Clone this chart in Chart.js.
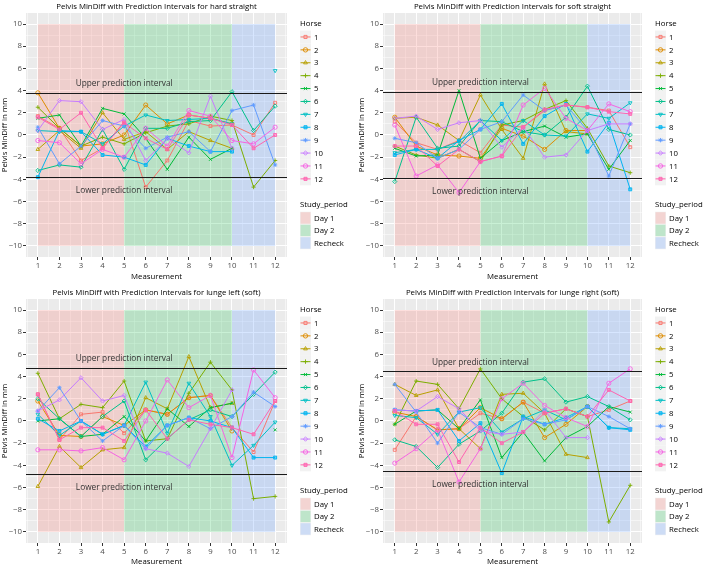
<!DOCTYPE html>
<html>
<head>
<meta charset="utf-8">
<script src="https://cdn.jsdelivr.net/npm/chart.js@4.4.1/dist/chart.umd.min.js"></script>
<style>
  body { margin: 0; background: #fff; }
  #fig { position: relative; width: 709px; height: 566px; overflow: hidden; }
  .panel { position: absolute; }
</style>
</head>
<body>
<div id="fig">
  <div class="panel" style="left:0;top:0"><canvas id="c1" width="354" height="283"></canvas></div>
  <div class="panel" style="left:357px;top:0"><canvas id="c2" width="352" height="283"></canvas></div>
  <div class="panel" style="left:0;top:286px"><canvas id="c3" width="354" height="280"></canvas></div>
  <div class="panel" style="left:357px;top:286px"><canvas id="c4" width="352" height="280"></canvas></div>
</div>
<script>
(function(){
  // data
  const measurements = [1, 2, 3, 4, 5, 6, 7, 8, 9, 10, 11, 12];
  const horses = ['1', '2', '3', '4', '5', '6', '7', '8', '9', '10', '11', '12'];
  const yTicks = [-10, -8, -6, -4, -2, 0, 2, 4, 6, 8, 10];

  const periods = ['Day 1', 'Day 2', 'Recheck'];
  const periodFrom = [1, 5, 10];
  const periodTo = [5, 10, 12];
  const periodLow = -10;
  const periodHigh = 10;

  const surfaces = ['hard straight', 'soft straight', 'lunge left (soft)', 'lunge right (soft)'];
  const predictionLimits = [3.8, 3.9, 4.8, 4.5];

  // one row per horse, one value per measurement
  const hardStraight = [
    [1.7, 0.6, -2.3, -1.2, 1.2, -4.7, -2.3, 1.3, 0.8, 0.9, 0.0, 2.9],
    [3.8, 0.6, -1.0, -0.8, 0.0, 2.7, 1.0, 1.8, 1.5, 1.0, null, null],
    [-1.3, 0.4, -1.2, 2.0, -0.4, 0.3, -1.3, 0.3, -0.5, -1.2, null, null],
    [2.5, 0.6, -1.0, -0.2, -0.8, 0.2, 0.8, 1.0, 1.7, 1.3, -4.7, -2.3],
    [1.5, 1.8, -1.0, 2.4, 1.9, -0.3, -3.1, -0.2, -2.2, -1.2, null, null],
    [-3.2, -2.7, -2.9, 0.5, -3.1, 0.6, 0.6, 1.2, 1.3, 3.9, 0.4, 2.6],
    [0.4, 0.3, 0.3, -0.8, 0.8, 1.8, 1.3, 1.4, 1.5, 1.0, null, 5.8],
    [-3.8, 0.4, 0.3, -1.8, -2.0, -2.7, -0.3, -1.0, -1.5, -1.5, null, null],
    [0.7, -2.6, -1.0, 1.3, 0.8, -1.2, -0.2, 0.3, -1.5, 2.2, 2.7, -2.7],
    [0.4, 3.1, 3.0, 0.5, 1.4, -2.3, -0.3, -1.6, 3.5, -1.2, null, null],
    [-0.5, -0.7, -2.6, -1.3, -2.0, 0.6, -1.0, 2.2, 1.7, -0.5, -0.8, 0.7],
    [1.6, 0.5, 2.0, -1.2, 1.1, -0.3, -1.3, 1.8, 1.5, 0.9, -1.2, 0.0]
  ];
  const softStraight = [
    [1.2, -0.7, -1.3, -0.5, -1.6, 0.9, 0.7, 2.2, 2.7, 2.5, 2.2, -1.1],
    [1.6, -1.0, -1.8, -1.9, -2.1, 0.6, -0.1, -1.3, 0.4, 0.4, null, null],
    [1.5, 1.6, 0.9, -0.5, 3.6, 0.5, -2.1, 4.6, 0.3, 0.1, null, null],
    [-1.0, -1.8, -2.1, -1.3, -2.4, 0.9, 1.3, 2.3, 3.1, 0.6, -2.8, -3.4],
    [-1.2, -1.9, -1.8, 4.0, -2.1, -0.5, 0.3, 0.8, -0.2, 0.1, -3.1, -0.5],
    [-4.2, 1.6, -1.2, -1.0, 1.3, 1.2, 0.3, 0.0, 1.6, 4.4, 0.5, 0.0],
    [-1.6, -1.3, -1.3, -0.6, 1.3, -0.5, 1.3, 0.0, -0.1, 1.9, 1.5, 2.9],
    [-1.8, -1.3, -2.1, -0.5, 0.5, 2.8, -0.8, 1.7, 2.8, -1.5, 1.1, -4.9],
    [-0.3, -0.7, -2.1, -1.3, 0.5, 1.2, 3.6, 2.2, 2.7, 0.4, -3.7, 1.0],
    [1.5, 1.7, 0.5, 1.1, 1.3, -1.1, 0.7, -2.0, -1.8, 0.4, 1.0, 1.0],
    [0.9, -3.7, -2.7, -5.2, -2.4, -1.9, 2.7, 4.2, 1.5, 0.4, 2.8, 2.1],
    [-1.0, -1.0, -2.8, -1.3, -2.4, -1.9, 0.7, 2.3, 2.7, 2.5, 2.1, 1.9]
  ];
  const lungeLeft = [
    [2.4, -1.7, 0.6, 0.8, -1.1, 1.0, 0.6, 2.1, 2.3, -0.6, -2.8, 1.8],
    [1.8, -1.3, -1.4, 0.4, -0.4, 1.0, 0.6, 2.1, 2.3, -0.9, null, null],
    [-5.9, -2.3, -4.2, -2.6, -2.4, 2.1, 1.1, 5.8, 1.2, 1.6, null, null],
    [4.3, 0.2, 1.5, 1.2, 3.6, -1.8, -1.6, 2.5, 5.3, 2.8, -7.0, -6.8],
    [0.0, 0.2, -1.4, -1.2, 0.4, -1.8, 1.1, -0.5, 1.2, 1.6, null, -0.8],
    [2.0, 0.2, -1.4, 0.4, 1.8, -3.5, -1.6, 0.1, 1.0, 0.4, 2.4, 4.4],
    [0.6, -1.3, 0.0, -1.2, -0.4, 3.5, -1.1, 3.4, 0.4, -4.0, -2.2, -0.1],
    [0.2, -0.9, 0.0, -1.2, -0.4, -2.3, -0.4, 0.3, 0.0, -0.6, -3.3, -3.3],
    [0.9, 3.0, 0.0, -1.8, -0.4, -2.5, -0.4, 0.3, -0.7, 0.4, 2.6, 1.3],
    [0.9, 1.9, 3.9, 1.8, 2.3, -2.5, -2.9, -4.1, -0.7, 2.8, null, null],
    [-2.6, -2.6, -2.7, -2.4, -3.5, 0.0, 3.7, 1.2, 2.3, -3.3, 4.6, 2.1],
    [2.4, -1.7, -0.6, -0.6, -1.8, 1.0, -1.6, 0.1, -0.3, -0.6, -1.2, 1.8]
  ];
  const lungeRight = [
    [-2.6, 0.4, -0.8, -0.7, 0.7, 0.2, 1.7, 0.7, 1.1, 0.4, 1.0, 1.8],
    [0.8, 0.4, -0.8, -0.7, 1.2, 0.2, 1.7, -1.5, -0.3, 1.3, null, null],
    [3.3, 2.3, 2.8, -0.7, -2.5, 2.4, 2.5, 0.7, -3.0, -3.3, null, null],
    [-0.3, 3.6, 3.3, 1.1, 4.7, 2.0, 0.4, -0.8, 1.1, 0.4, -9.1, -5.8],
    [-0.3, 0.9, 1.0, -0.7, 1.9, -3.3, -1.0, -3.6, -1.5, -0.5, 1.3, 0.8],
    [-1.7, -2.3, -4.2, -2.1, -0.9, 0.7, 3.5, 3.8, 1.7, 2.2, 1.3, 0.1],
    [0.5, 0.3, -1.2, 0.8, 1.2, -1.0, 0.2, 1.0, 0.1, 1.3, -0.6, -0.7],
    [1.0, 0.9, 1.0, -1.8, -0.2, -4.7, 0.4, -0.3, 0.3, 1.3, -0.6, -0.8],
    [3.3, 0.8, -2.0, 0.8, -0.6, -1.2, 0.2, -0.3, 0.1, 1.3, 0.4, -0.7],
    [1.0, 0.9, 2.2, 1.1, -0.9, -1.2, -1.0, 1.0, -1.5, -1.5, null, null],
    [-3.8, -2.5, -0.8, -5.5, -2.5, 2.0, 3.4, 1.4, 0.3, -0.5, 3.4, 4.7],
    [0.9, -0.3, -0.3, -3.7, -0.6, -2.0, -1.0, 0.7, 1.1, 0.4, 2.8, 1.8]
  ];
  const panelData = [hardStraight, softStraight, lungeLeft, lungeRight];

  // styles
  const horseColors = ['#F8766D', '#DE8C00', '#B79F00', '#7CAE00', '#00BA38', '#00C08B',
                       '#00BFC4', '#00B4F0', '#619CFF', '#C77CFF', '#F564E3', '#FF64B0'];
  const horseShapes = ['rect', 'circle', 'triangle', 'cross', 'crossRot', 'rectRot',
                       'triangle', 'rect', 'star', 'rectRot', 'circle', 'rect'];
  const horseRotation = [0, 0, 0, 0, 0, 0, 180, 0, 0, 0, 0, 0];
  const horseFilled = [false, false, false, false, false, false, false, true, false, false, false, true];
  const periodColors = ['rgba(248,118,109,0.24)', 'rgba(0,186,56,0.21)', 'rgba(97,156,255,0.25)'];
  const FONT = '"Open Sans", "Noto Sans", sans-serif';
  const FS = 7.8;
  Chart.defaults.font.family = FONT;

  const minorX = measurements.map(m => m - 0.5).concat([12.5]);
  const xGrid = measurements.concat(minorX).sort((a, b) => a - b);
  const yGrid = yTicks.concat(yTicks.slice(1).map(v => v - 1)).sort((a, b) => a - b);

  function withAlpha(hex, a){
    const n = parseInt(hex.slice(1), 16);
    return `rgba(${n >> 16},${(n >> 8) & 255},${n & 255},${a})`;
  }

  const panelBg = {
    id: 'panelBg',
    beforeDraw(chart){
      const { ctx, chartArea: a } = chart;
      ctx.save();
      ctx.fillStyle = '#EBEBEB';
      ctx.fillRect(a.left, a.top, a.width, a.height);
      ctx.restore();
    }
  };

  const periodRects = {
    id: 'periodRects',
    beforeDatasetsDraw(chart){
      const { ctx, scales: { x, y } } = chart;
      const top = y.getPixelForValue(periodHigh);
      const bottom = y.getPixelForValue(periodLow);
      ctx.save();
      periods.forEach((p, i) => {
        const x0 = x.getPixelForValue(periodFrom[i]);
        const x1 = x.getPixelForValue(periodTo[i]);
        ctx.fillStyle = periodColors[i];
        ctx.fillRect(x0, top, x1 - x0, bottom - top);
      });
      ctx.restore();
    }
  };

  const limitLines = {
    id: 'limitLines',
    afterDatasetsDraw(chart, args, opts){
      const { ctx, chartArea: a, scales: { x, y } } = chart;
      const lim = opts.value;
      if (lim == null) return;
      ctx.save();
      ctx.strokeStyle = '#1a1a1a';
      ctx.lineWidth = 1.1;
      [lim, -lim].forEach(v => {
        const py = Math.round(y.getPixelForValue(v)) + 0.5;
        ctx.beginPath();
        ctx.moveTo(a.left, py);
        ctx.lineTo(a.right, py);
        ctx.stroke();
      });
      ctx.fillStyle = '#333';
      ctx.font = '8.3px ' + FONT;
      ctx.textAlign = 'center';
      ctx.textBaseline = 'middle';
      ctx.fillText('Upper prediction interval', x.getPixelForValue(5), y.getPixelForValue(lim + 0.8));
      ctx.fillText('Lower prediction interval', x.getPixelForValue(5), y.getPixelForValue(-lim - 1.2));
      ctx.restore();
    }
  };

  const sideLegend = {
    id: 'sideLegend',
    afterDraw(chart){
      const { ctx, chartArea: a } = chart;
      const x0 = a.right + 13;
      const kw = 11, kh = 12.9;
      ctx.save();
      ctx.textBaseline = 'middle';
      ctx.textAlign = 'left';
      ctx.font = FS + 'px ' + FONT;
      ctx.fillStyle = '#000';
      ctx.fillText('Horse', x0, a.top + 11);
      chart.data.datasets.forEach((ds, i) => {
        const cy = a.top + 24 + i * kh;
        ctx.fillStyle = '#F2F2F2';
        ctx.fillRect(x0, cy - kh / 2, kw, kh);
        ctx.strokeStyle = ds.borderColor;
        ctx.lineWidth = 1;
        ctx.beginPath();
        ctx.moveTo(x0 + 0.5, cy);
        ctx.lineTo(x0 + kw - 0.5, cy);
        ctx.stroke();
        if (Chart.helpers && Chart.helpers.drawPoint) {
          ctx.fillStyle = ds.pointBackgroundColor;
          ctx.lineWidth = 0.9;
          Chart.helpers.drawPoint(ctx, {
            pointStyle: ds.pointStyle, rotation: ds.pointRotation,
            radius: 2.2, borderWidth: 0.9
          }, x0 + kw / 2, cy);
        }
        ctx.fillStyle = '#000';
        ctx.fillText(ds.label, x0 + kw + 3, cy + 0.5);
      });
      ctx.fillText('Study_period', x0, a.top + 192);
      periods.forEach((p, i) => {
        const cy = a.top + 205 + i * 12.5;
        ctx.fillStyle = '#F2F2F2';
        ctx.fillRect(x0, cy - 6.25, kw, 12.5);
        ctx.fillStyle = periodColors[i];
        ctx.fillRect(x0 + 0.5, cy - 5.75, kw - 1, 11.5);
        ctx.fillStyle = '#000';
        ctx.fillText(p, x0 + kw + 3, cy + 0.5);
      });
      ctx.restore();
    }
  };

  function makeDatasets(rows){
    return horses.map((h, i) => ({
      label: h,
      data: measurements.map((m, j) => ({ x: m, y: rows[i][j] })),
      borderColor: horseColors[i],
      backgroundColor: horseColors[i],
      borderWidth: 1,
      pointStyle: horseShapes[i],
      pointRotation: horseRotation[i],
      pointRadius: 2.1,
      pointBorderWidth: 0.9,
      pointBorderColor: horseColors[i],
      pointBackgroundColor: horseFilled[i] ? withAlpha(horseColors[i], 0.55) : 'rgba(0,0,0,0)',
      tension: 0,
      spanGaps: false,
      order: horses.length - i
    }));
  }

  const tickFont = { size: FS };
  const isMajorY = v => v % 2 === 0;

  function createPanel(canvasId, k, bottomRow){
    const el = document.getElementById(canvasId);
    return new Chart(el, {
      type: 'line',
      data: { datasets: makeDatasets(panelData[k]) },
      options: {
        responsive: false,
        animation: false,
        events: [],
        layout: { padding: { left: 0, right: 67, top: 0, bottom: 0 } },
        plugins: {
          legend: { display: false },
          tooltip: { enabled: false },
          title: {
            display: true,
            fullSize: false,
            text: 'Pelvis MinDiff with Prediction Intervals for ' + surfaces[k],
            color: '#000',
            font: { size: FS, weight: 'normal' },
            padding: { top: 2, bottom: 1.6 }
          },
          limitLines: { value: predictionLimits[k] }
        },
        scales: {
          x: {
            type: 'linear',
            min: 0.45,
            max: 12.55,
            afterBuildTicks: s => { s.ticks = xGrid.map(v => ({ value: v })); },
            afterFit: s => { s.height = bottomRow ? 23 : 26; },
            border: { display: false },
            grid: {
              color: '#FFFFFF',
              lineWidth: c => (c.tick && Number.isInteger(c.tick.value)) ? 1 : 0.5,
              tickLength: 3,
              tickColor: c => (c.tick && Number.isInteger(c.tick.value)) ? '#333333' : 'rgba(0,0,0,0)'
            },
            ticks: {
              autoSkip: false,
              maxRotation: 0,
              padding: 1,
              color: '#4D4D4D',
              font: tickFont,
              callback: v => measurements.includes(v) ? String(v) : ''
            },
            title: {
              display: true,
              text: 'Measurement',
              color: '#000',
              font: { size: FS },
              padding: { top: 0, bottom: bottomRow ? 0 : 2 }
            }
          },
          y: {
            type: 'linear',
            min: -11,
            max: 11,
            afterBuildTicks: s => { s.ticks = yGrid.map(v => ({ value: v })); },
            afterFit: s => { s.width = 26; },
            border: { display: false },
            grid: {
              color: '#FFFFFF',
              lineWidth: c => (c.tick && isMajorY(c.tick.value)) ? 1 : 0.5,
              tickLength: 3,
              tickColor: c => (c.tick && isMajorY(c.tick.value)) ? '#333333' : 'rgba(0,0,0,0)'
            },
            ticks: {
              autoSkip: false,
              padding: 1,
              color: '#4D4D4D',
              font: tickFont,
              callback: v => yTicks.includes(v) ? String(v).replace('-', '\u2212') : ''
            },
            title: {
              display: true,
              text: 'Pelvis MinDiff in mm',
              color: '#000',
              font: { size: FS },
              padding: { top: 0, bottom: 0 }
            }
          }
        }
      },
      plugins: [panelBg, periodRects, limitLines, sideLegend]
    });
  }

  createPanel('c1', 0, false);
  createPanel('c2', 1, false);
  createPanel('c3', 2, true);
  createPanel('c4', 3, true);
})();
</script>
</body>
</html>
